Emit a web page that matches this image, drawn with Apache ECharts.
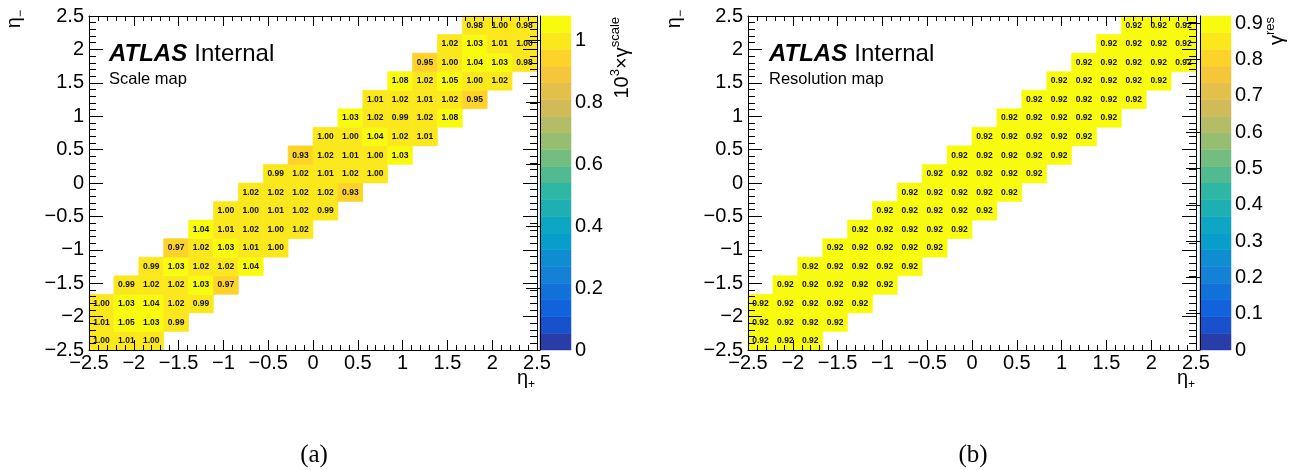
<!DOCTYPE html>
<html><head><meta charset="utf-8">
<script src="https://cdn.jsdelivr.net/npm/echarts@6/dist/echarts.min.js"></script>
<style>html,body{margin:0;padding:0;background:#fff}#c{width:1306px;height:470px}</style>
</head><body><div id="c"></div>
<script>
// ---- data ----
const etaMin = -2.5, etaMax = 2.5, nBins = 18;
// first filled column (bin index along eta+) of each eta- row, bottom row first
const rowStart = [0,0,0,1,2,3,4,5,6,7,8,9,10,11,12,13,14,15];
const scaleValues = [
  [1.00,1.01,1.00],
  [1.01,1.05,1.03,0.99],
  [1.00,1.03,1.04,1.02,0.99],
  [0.99,1.02,1.02,1.03,0.97],
  [0.99,1.03,1.02,1.02,1.04],
  [0.97,1.02,1.03,1.01,1.00],
  [1.04,1.01,1.02,1.00,1.02],
  [1.00,1.00,1.01,1.02,0.99],
  [1.02,1.02,1.02,1.02,0.93],
  [0.99,1.02,1.01,1.02,1.00],
  [0.93,1.02,1.01,1.00,1.03],
  [1.00,1.00,1.04,1.02,1.01],
  [1.03,1.02,0.99,1.02,1.08],
  [1.01,1.02,1.01,1.02,0.95],
  [1.08,1.02,1.05,1.00,1.02],
  [0.95,1.00,1.04,1.03,0.98],
  [1.02,1.03,1.01,1.00],
  [0.98,1.00,0.98]
];
const resValues = [
  [0.92,0.92,0.92],
  [0.92,0.92,0.92,0.92],
  [0.92,0.92,0.92,0.92,0.92],
  [0.92,0.92,0.92,0.92,0.92],
  [0.92,0.92,0.92,0.92,0.92],
  [0.92,0.92,0.92,0.92,0.92],
  [0.92,0.92,0.92,0.92,0.92],
  [0.92,0.92,0.92,0.92,0.92],
  [0.92,0.92,0.92,0.92,0.92],
  [0.92,0.92,0.92,0.92,0.92],
  [0.92,0.92,0.92,0.92,0.92],
  [0.92,0.92,0.92,0.92,0.92],
  [0.92,0.92,0.92,0.92,0.92],
  [0.92,0.92,0.92,0.92,0.92],
  [0.92,0.92,0.92,0.92,0.92],
  [0.92,0.92,0.92,0.92,0.92],
  [0.92,0.92,0.92,0.92],
  [0.92,0.92,0.92]
];
const scaleZMax = 1.08, resZMax = 0.92;
const scaleZInterval = 0.2, resZInterval = 0.1;
const nContours = 20;

// ---- ROOT kBird palette ----
const birdStops = [0,0.125,0.25,0.375,0.5,0.625,0.75,0.875,1];
const birdR = [0.2082,0.0592,0.0780,0.0232,0.1802,0.5301,0.8186,0.9956,0.9764];
const birdG = [0.1664,0.3599,0.5041,0.6419,0.7178,0.7492,0.7328,0.7862,0.9832];
const birdB = [0.5293,0.8684,0.8385,0.7914,0.6425,0.4662,0.3499,0.1968,0.0539];
function birdColor(t){
  let g = 1;
  while (g < birdStops.length-1 && t > birdStops[g]) g++;
  const f = (t - birdStops[g-1])/(birdStops[g]-birdStops[g-1]);
  const c = a => Math.round(255*(a[g-1] + (a[g]-a[g-1])*f));
  return 'rgb(' + c(birdR) + ',' + c(birdG) + ',' + c(birdB) + ')';
}
function bandColor(k){
  const idx = Math.floor((k+0.99)*255/nContours);
  return birdColor(Math.min(idx,254)/254);
}
function bandOf(v, zmax){ return Math.max(0, Math.min(nContours-1, Math.floor(v/zmax*nContours + 1e-9))); }

const binW = (etaMax-etaMin)/nBins;
function cellData(values){
  const out = [];
  values.forEach((row, j) => row.forEach((v, k) => {
    const i = rowStart[j] + k;
    out.push([etaMin+i*binW, etaMin+(i+1)*binW, etaMin+j*binW, etaMin+(j+1)*binW, v]);
  }));
  return out;
}
function bandData(zmax){
  const out = [];
  for (let k=0;k<nContours;k++) out.push([0,1,k*zmax/nContours,(k+1)*zmax/nContours,k]);
  return out;
}

const FONT = '"Liberation Sans", Arial, Helvetica, sans-serif';
function makeCellRender(zmax){
  return function(params, api){
    const p0 = api.coord([api.value(0), api.value(2)]);
    const p1 = api.coord([api.value(1), api.value(3)]);
    const v = api.value(4);
    const col = bandColor(bandOf(v, zmax));
    return {type:'group', children:[
      {type:'rect', shape:{x:p0[0], y:p1[1], width:p1[0]-p0[0], height:p0[1]-p1[1]},
       style:{fill:col, stroke:col, lineWidth:0.6}},
      {type:'text', style:{text:v.toFixed(2), x:(p0[0]+p1[0])/2, y:(p0[1]+p1[1])/2,
        align:'center', verticalAlign:'middle', textAlign:'center', textVerticalAlign:'middle',
        font:'bold 8.5px ' + FONT, fill:'#111'}}
    ]};
  };
}
function bandRender(params, api){
  const p0 = api.coord([api.value(0), api.value(2)]);
  const p1 = api.coord([api.value(1), api.value(3)]);
  const col = bandColor(api.value(4));
  return {type:'rect', shape:{x:p0[0], y:p1[1], width:p1[0]-p0[0], height:p0[1]-p1[1]},
    style:{fill:col, stroke:col, lineWidth:0.5}};
}

const fmt = v => { const s = String(Math.round(v*100)/100); return v < 0 ? '\u2212' + s.slice(1) : s; };
const lineStyle = {color:'#000', width:1};
function etaX(grid, pos, labels){
  return {type:'value', gridIndex:grid, position:pos, min:etaMin, max:etaMax, interval:0.5, z:5,
    axisLine:{show:true, onZero:false, lineStyle}, axisTick:{show:true, inside:true, length:10, lineStyle},
    minorTick:{show:true, splitNumber:5, length:5, lineStyle},
    splitLine:{show:false}, minorSplitLine:{show:false},
    axisLabel:{show:labels, formatter:fmt, color:'#000', fontSize:20, fontFamily:FONT, margin:3}};
}
function etaY(grid, pos, labels){
  return {type:'value', gridIndex:grid, position:pos, min:etaMin, max:etaMax, interval:0.5, z:5,
    axisLine:{show:true, onZero:false, lineStyle}, axisTick:{show:true, inside:true, length:14, lineStyle},
    minorTick:{show:true, splitNumber:5, length:7, lineStyle},
    splitLine:{show:false}, minorSplitLine:{show:false},
    axisLabel:{show:labels, formatter:fmt, color:'#000', fontSize:20, fontFamily:FONT, margin:5}};
}
function hiddenX(grid){ return {type:'value', gridIndex:grid, min:0, max:1, show:false}; }
function zAxis(grid, zmax, interval){
  return {type:'value', gridIndex:grid, position:'right', min:0, max:zmax, interval:interval, z:5,
    axisLine:{show:true, lineStyle}, axisTick:{show:true, inside:true, length:14, lineStyle},
    splitLine:{show:false},
    axisLabel:{show:true, formatter:fmt, color:'#000', fontSize:20, fontFamily:FONT, margin:4,
      showMaxLabel:false}};
}

const option = {
  animation:false,
  backgroundColor:'#fff',
  grid:[
    {left:89, top:16, width:448, height:334},
    {left:540, top:16, width:31, height:334},
    {left:748, top:16, width:448, height:334},
    {left:1200, top:16, width:31, height:334}
  ],
  xAxis:[etaX(0,'bottom',true), etaX(0,'top',false), hiddenX(1), etaX(2,'bottom',true), etaX(2,'top',false), hiddenX(3)],
  yAxis:[etaY(0,'left',true), etaY(0,'right',false), zAxis(1, scaleZMax, scaleZInterval),
         etaY(2,'left',true), etaY(2,'right',false), zAxis(3, resZMax, resZInterval)],
  series:[
    {type:'custom', xAxisIndex:0, yAxisIndex:0, z:1, renderItem:makeCellRender(scaleZMax),
      encode:{x:[0,1], y:[2,3]}, data:cellData(scaleValues)},
    {type:'custom', xAxisIndex:2, yAxisIndex:2, z:1, renderItem:bandRender,
      encode:{x:[0,1], y:[2,3]}, data:bandData(scaleZMax)},
    {type:'custom', xAxisIndex:3, yAxisIndex:3, z:1, renderItem:makeCellRender(resZMax),
      encode:{x:[0,1], y:[2,3]}, data:cellData(resValues)},
    {type:'custom', xAxisIndex:5, yAxisIndex:5, z:1, renderItem:bandRender,
      encode:{x:[0,1], y:[2,3]}, data:bandData(resZMax)}
  ],
  graphic:[]
};

const atlasRich = {b:{font:'italic bold 24px ' + FONT, fill:'#000', padding:[0,7,0,0]}, n:{font:'24px ' + FONT, fill:'#000'}};
function addPanelText(x0, sub, caption, cx, nameX, yTitleX, barTitleX, barTitle, barRich){
  option.graphic.push(
    {type:'text', x:x0, y:54, z:10, style:{text:'{b|ATLAS}{n|Internal}', rich:atlasRich, verticalAlign:'middle'}},
    {type:'text', x:x0, y:79, z:10, style:{text:sub, font:'16.5px ' + FONT, fill:'#000', verticalAlign:'middle'}},
    {type:'text', x:cx, y:455, z:10, style:{text:caption, font:'25px "Liberation Serif", "DejaVu Serif", serif', fill:'#000', align:'center', verticalAlign:'middle'}},
    {type:'text', x:nameX, y:365, z:10, style:{text:'{e|\u03b7}{s|+}', verticalAlign:'top',
      rich:{e:{fontSize:20, fontFamily:FONT, fill:'#000', lineHeight:26}, s:{fontSize:12, fontFamily:FONT, fill:'#000', verticalAlign:'bottom'}}}},
    {type:'text', x:yTitleX, y:10, z:10, rotation:Math.PI/2, style:{text:'{e|\u03b7}{s|\u2212}', align:'right', verticalAlign:'middle',
      rich:{e:{fontSize:20, fontFamily:FONT, fill:'#000', lineHeight:26}, s:{fontSize:12, fontFamily:FONT, fill:'#000', verticalAlign:'bottom'}}}},
    {type:'text', x:barTitleX, y:17, z:10, rotation:Math.PI/2, style:{text:barTitle, align:'right', verticalAlign:'middle', rich:barRich}}
  );
}
const barRich = {
  n:{fontSize:20, fontFamily:FONT, fill:'#000', lineHeight:26},
  p:{fontSize:13, fontFamily:FONT, fill:'#000', verticalAlign:'top'}
};
addPanelText(109, 'Scale map', '(a)', 314, 517, 14, 622, '{n|10}{p|3}{n|\u00d7\u03b3}{p|scale}', barRich);
addPanelText(769, 'Resolution map', '(b)', 973, 1177, 674, 1277, '{n|\u03b3}{p|res}', barRich);

const chart = echarts.init(document.getElementById('c'), null, {renderer:'canvas'});
chart.setOption(option);
</script></body></html>
